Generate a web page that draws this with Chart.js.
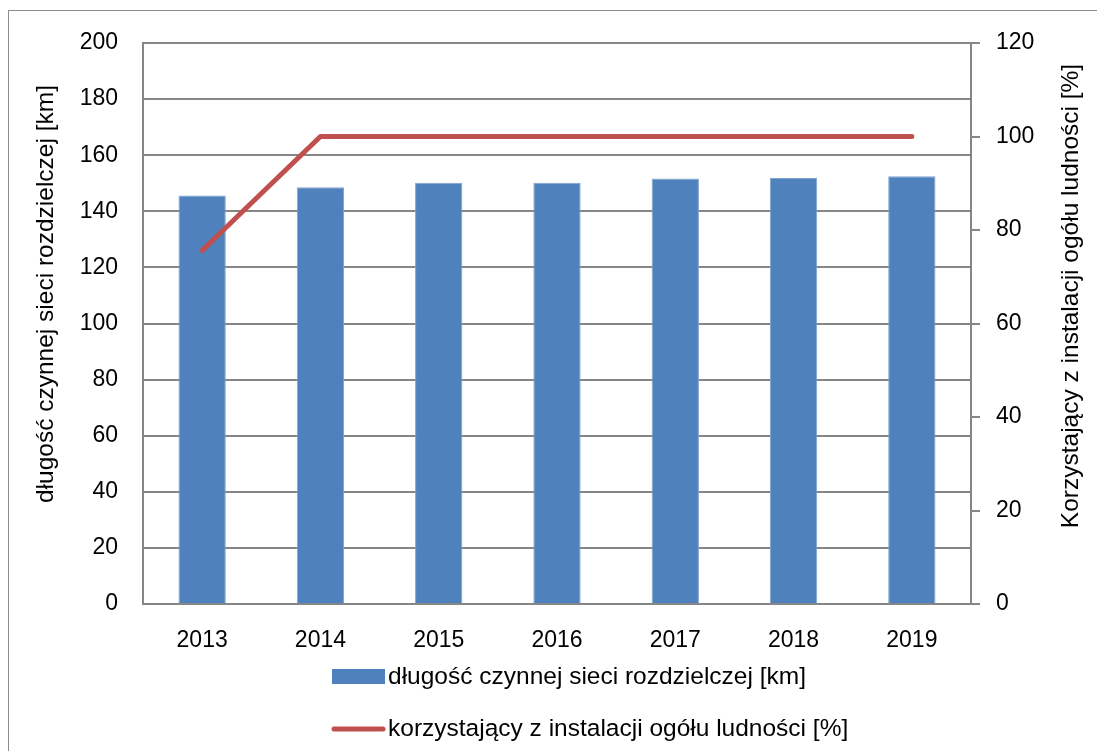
<!DOCTYPE html>
<html>
<head>
<meta charset="utf-8">
<script src="https://cdn.jsdelivr.net/npm/chart.js@4"></script>
<style>
  body { margin: 0; background: #fff; }
  #wrap { width: 1097px; height: 751px; }
</style>
</head>
<body>
<div id="wrap"><canvas id="chart" width="1097" height="751"></canvas></div>
<script>
// data
var years = ['2013', '2014', '2015', '2016', '2017', '2018', '2019'];
var networkKm = [145.6, 148.6, 150.2, 150.2, 151.7, 151.9, 152.5];
var usersPct = [75.6, 100, 100, 100, 100, 100, 100];

var barLabel = 'długość czynnej sieci rozdzielczej [km]';
var lineLabel = 'korzystający z instalacji ogółu ludności [%]';
var leftTitle = 'długość czynnej sieci rozdzielczej [km]';
var rightTitle = 'Korzystający z instalacji ogółu ludności [%]';

var FONT = "'Liberation Sans', Arial, sans-serif";
var TICK_SIZE = 23;
var TEXT_SIZE = 24.5;
var BLUE = '#4F81BD';
var RED = '#C0504D';
var GRID = '#868686';

function drawVertical(ctx, text, x, y) {
    ctx.save();
    ctx.translate(x, y);
    ctx.rotate(-Math.PI / 2);
    ctx.textAlign = 'center';
    ctx.textBaseline = 'middle';
    ctx.fillText(text, 0, 0);
    ctx.restore();
}

// outer frame, axis titles (both read bottom-up) and stacked legend
var decorPlugin = {
    id: 'decor',
    beforeDraw: function(chart) {
        var ctx = chart.ctx;
        ctx.save();
        ctx.strokeStyle = '#8c8c8c';
        ctx.lineWidth = 1;
        ctx.strokeRect(8.5, 10.5, 1200, 1000);
        ctx.restore();
    },
    afterDraw: function(chart) {
        var ctx = chart.ctx;
        ctx.save();
        ctx.font = TEXT_SIZE + 'px ' + FONT;
        ctx.fillStyle = '#000';

        drawVertical(ctx, leftTitle, 46, 294);
        drawVertical(ctx, rightTitle, 1071, 296);

        // legend, bars first then the line
        var line = chart.data.datasets[0];
        var bar = chart.data.datasets[1];
        ctx.textAlign = 'left';
        ctx.textBaseline = 'middle';
        ctx.fillStyle = bar.backgroundColor;
        ctx.fillRect(332, 669, 53, 15);
        ctx.fillStyle = '#000';
        ctx.fillText(bar.label, 388, 677);

        ctx.strokeStyle = line.borderColor;
        ctx.lineWidth = 5;
        ctx.lineCap = 'round';
        ctx.beginPath();
        ctx.moveTo(334, 729);
        ctx.lineTo(383, 729);
        ctx.stroke();
        ctx.fillText(line.label, 388, 729);
        ctx.restore();
    }
};

var ctx = document.getElementById('chart').getContext('2d');
var myChart = new Chart(ctx, {
    type: 'bar',
    data: {
        labels: years,
        datasets: [{
            type: 'line',
            label: lineLabel,
            data: usersPct,
            yAxisID: 'y2',
            borderColor: RED,
            backgroundColor: RED,
            borderWidth: 5,
            borderCapStyle: 'round',
            borderJoinStyle: 'round',
            pointRadius: 0,
            tension: 0,
            order: 0
        }, {
            label: barLabel,
            data: networkKm,
            yAxisID: 'y',
            backgroundColor: BLUE,
            borderColor: '#7fa3cf',
            borderWidth: 1,
            categoryPercentage: 1,
            barPercentage: 0.4,
            order: 1
        }]
    },
    options: {
        responsive: false,
        animation: false,
        layout: { padding: { left: 0, right: 0, top: 43, bottom: 97 } },
        plugins: {
            legend: { display: false },
            tooltip: { enabled: false }
        },
        scales: {
            x: {
                grid: { display: false },
                border: { display: true, color: GRID, width: 2 },
                ticks: { color: '#000', font: { family: FONT, size: TICK_SIZE }, padding: 15 },
                afterFit: function(s) { s.height = 50; }
            },
            y: {
                position: 'left',
                min: 0,
                max: 200,
                ticks: { stepSize: 20, color: '#000', font: { family: FONT, size: TICK_SIZE }, padding: 25 },
                grid: { color: GRID, lineWidth: 2, drawTicks: false },
                border: { display: true, color: GRID, width: 2 },
                afterFit: function(s) { s.width = 143; }
            },
            y2: {
                position: 'right',
                min: 0,
                max: 120,
                ticks: { stepSize: 20, color: '#000', font: { family: FONT, size: TICK_SIZE }, padding: 16 },
                grid: { drawOnChartArea: false, color: GRID, lineWidth: 2, tickLength: 9 },
                border: { display: true, color: GRID, width: 2 },
                afterFit: function(s) { s.width = 1097 - 971; }
            }
        }
    },
    plugins: [decorPlugin]
});
</script>
</body>
</html>
